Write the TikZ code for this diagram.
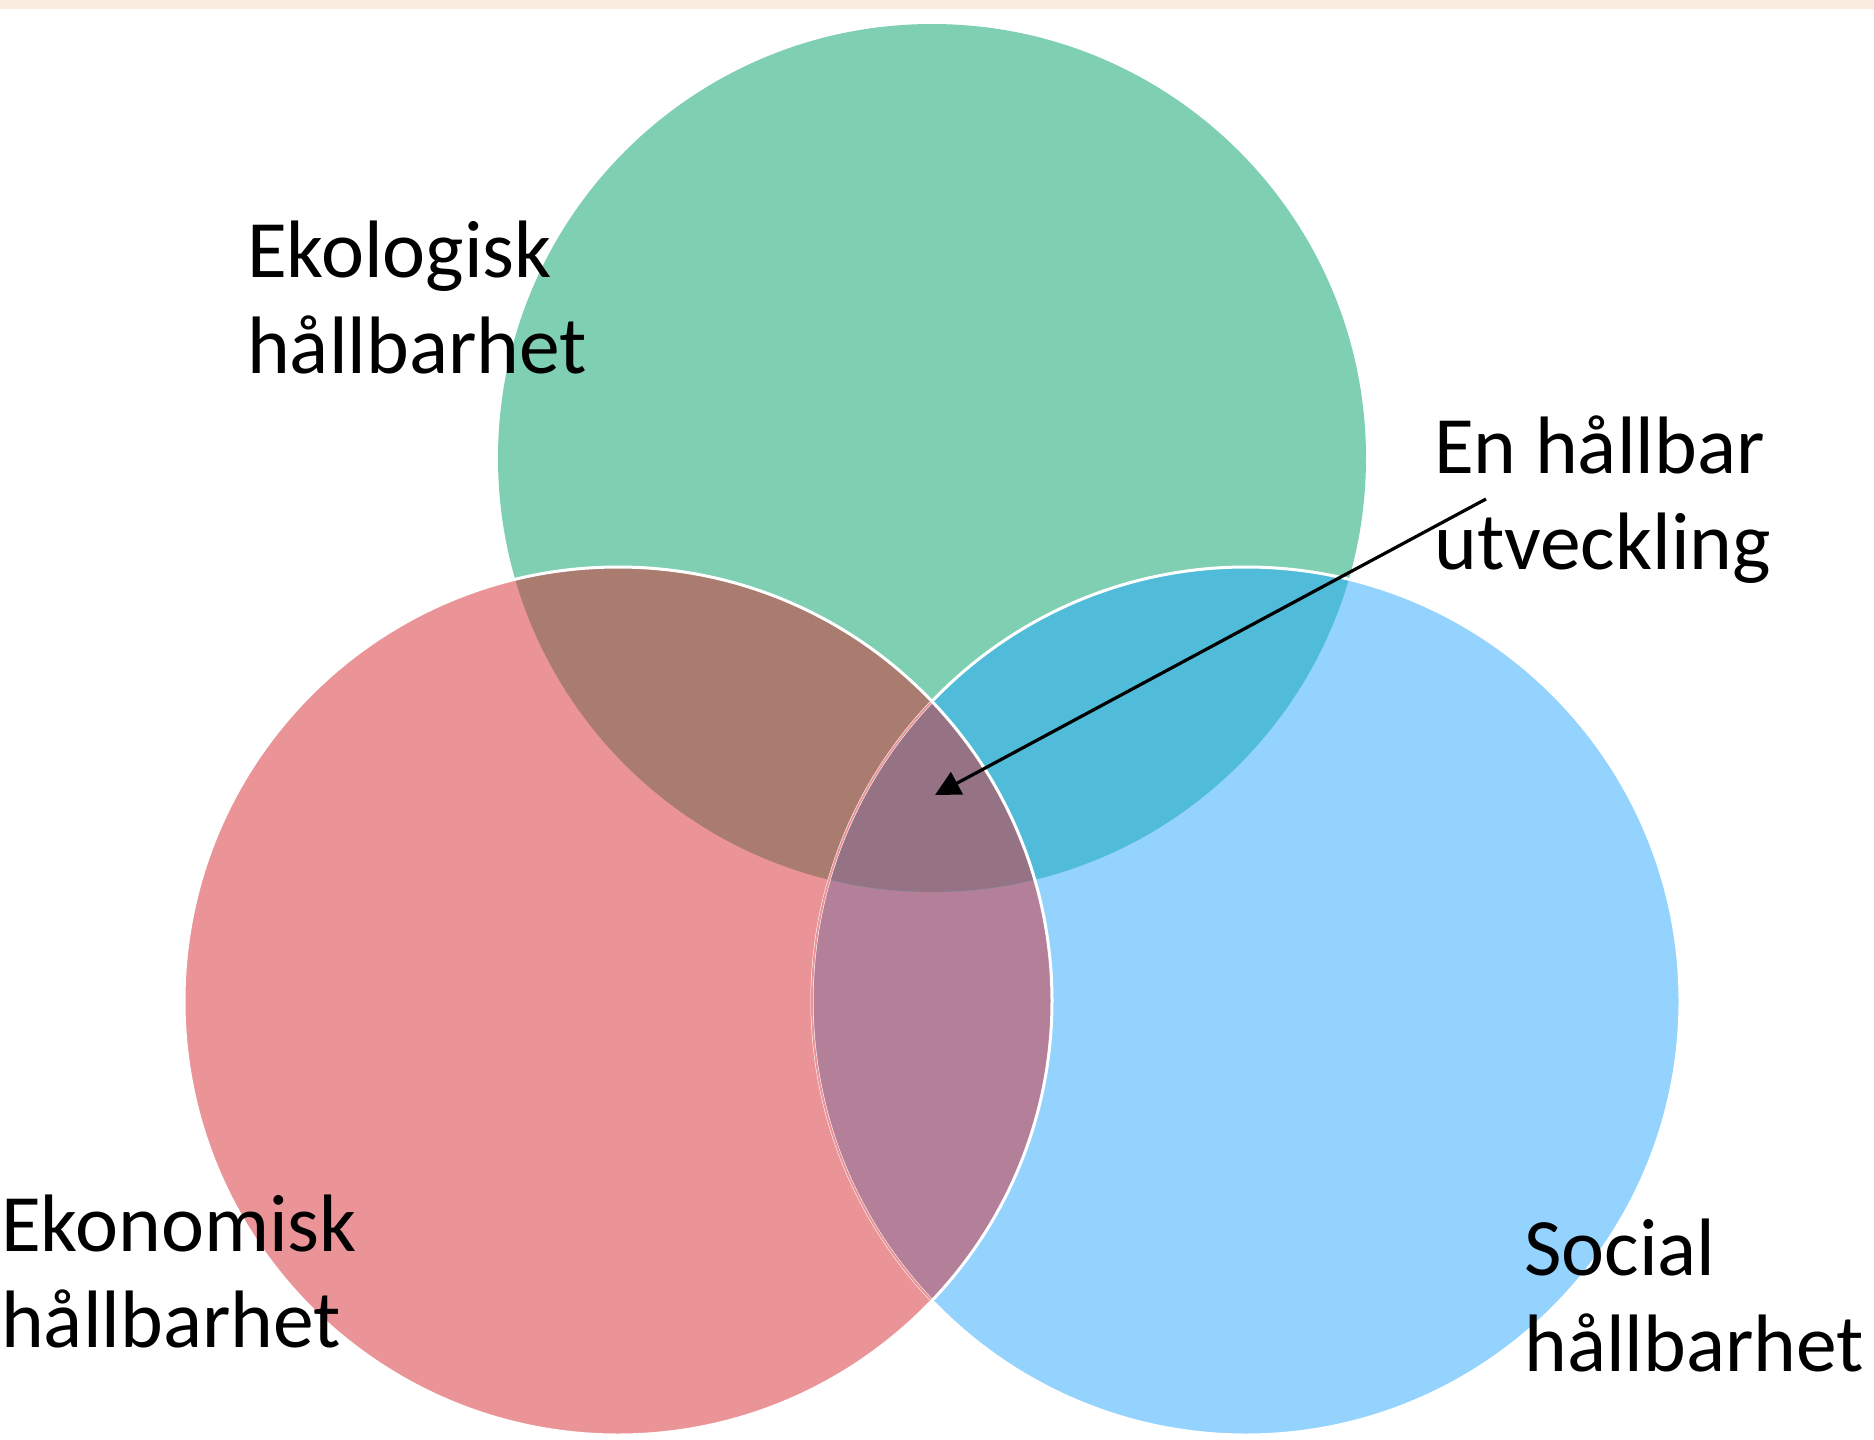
\documentclass[tikz,border=0pt]{standalone}
\usepackage{fontspec}
\setmainfont{Carlito}
\usetikzlibrary{arrows.meta}

\definecolor{band}{HTML}{FAEDDF}
\definecolor{eko}{HTML}{7FCFB3}
\definecolor{ekon}{HTML}{EA9497}
\definecolor{soc}{HTML}{94D3FE}
\definecolor{ekoekon}{HTML}{A97C6F}
\definecolor{ekosoc}{HTML}{50BCD9}
\definecolor{ekonsoc}{HTML}{B37F99}
\definecolor{alla}{HTML}{957385}

\begin{document}
\begin{tikzpicture}[x=1pt,y=-1pt,
    lbl/.style={align=left,anchor=base west,inner sep=0pt,
                font=\fontsize{81.5}{96}\selectfont},
    rim/.style={white,line width=3pt}]
  \useasboundingbox (0,0) rectangle (1874,1440);
  \fill[band] (0,0) rectangle (1874,9);
  \coordinate (G) at (932,458);
  \coordinate (R) at (618,1001);
  \coordinate (B) at (1246,1001);
  % the three circles
  \fill[eko]  (G) circle (434pt);
  \fill[ekon] (R) circle (434pt);
  \fill[soc]  (B) circle (434pt);
  \begin{scope}
    \clip (R) circle (434pt);
    \fill[ekonsoc] (B) circle (434pt);
  \end{scope}
  \begin{scope}
    \clip (G) circle (434pt);
    \fill[ekoekon] (R) circle (434pt);
    \fill[ekosoc]  (B) circle (434pt);
    \clip (R) circle (434pt);
    \fill[alla] (B) circle (434pt);
  \end{scope}
  % rims
  \draw[rim] (B) circle (434pt);
  \begin{scope}
    \clip (R) circle (434pt);
    \draw[ekon,line width=2pt] (B) circle (434pt);
  \end{scope}
  \draw[rim] (R) circle (434pt);
  % labels (anchored at the baseline of the second line)
  \node[lbl] (eko)  at (247,373)  {Ekologisk\\hållbarhet};
  \node[lbl] (ekon) at (1,1347)   {Ekonomisk\\hållbarhet};
  \node[lbl] (soc)  at (1524,1371) {Social\\hållbarhet};
  \node[lbl] (mal)  at (1434,569) {En hållbar\\utveckling};
  \coordinate (tail) at (1486,499);
  \coordinate (tip) at (935,795);
  \draw[line width=3.2pt,-{Triangle[length=25pt,width=25pt]}] (tail) -- (tip);
\end{tikzpicture}
\end{document}
